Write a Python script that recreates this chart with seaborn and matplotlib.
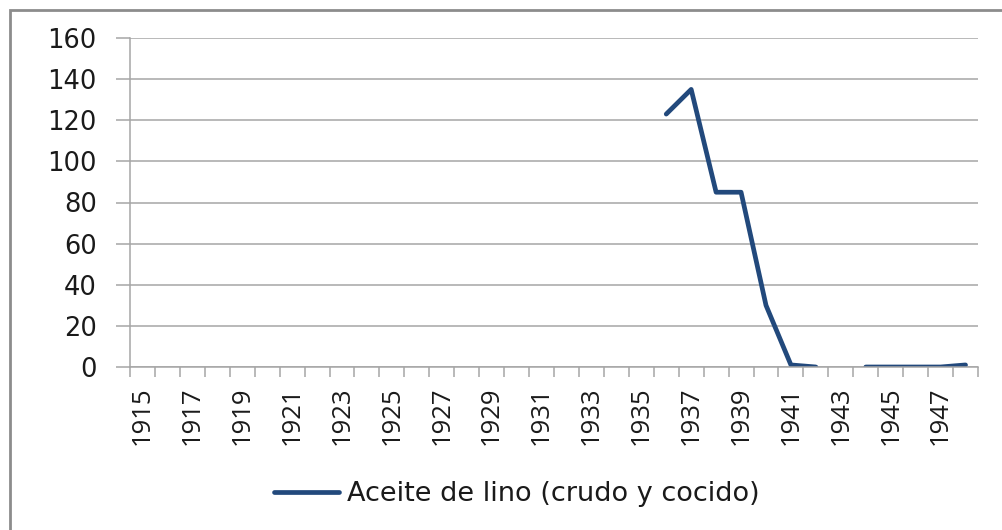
import numpy as np
import pandas as pd
import matplotlib
matplotlib.use("Agg")
import matplotlib.pyplot as plt
import seaborn as sns
from matplotlib.patches import Rectangle
from matplotlib.ticker import FixedLocator

# =========================================================
# DATA
# =========================================================

years = list(range(1915, 1949))
values = [np.nan] * 21 + [123, 135, 85, 85, 30, 1, 0, np.nan, 0, 0, 0, 0, 1]
series_label = "Aceite de lino (crudo y cocido)"
y_ticks = [0, 20, 40, 60, 80, 100, 120, 140, 160]

# =========================================================
# STYLE
# =========================================================

sns.set_style("white")
plt.rcParams["font.family"] = ["Open Sans", "DejaVu Sans"]

line_color = "#22497C"
grid_color = "#A6A6A6"
text_color = "#1A1A1A"
wide_font = ["DejaVu Sans"]

df = pd.DataFrame({"year": years, "value": values})
df["pos"] = np.arange(len(df))
# split into segments so gaps are not bridged
df["seg"] = df["value"].isna().cumsum()
df = df.dropna(subset=["value"])

fig = plt.figure(figsize=(10.03, 5.30), dpi=100)
ax = fig.add_axes([130 / 1003, 1 - 367 / 530, 848 / 1003, 329 / 530])

sns.lineplot(data=df, x="pos", y="value", units="seg", estimator=None,
             color=line_color, linewidth=3.4, ax=ax, legend=False)

ax.set_xlim(-0.5, len(years) - 0.5)
ax.set_ylim(0, 160)

# y axis
ax.set_yticks(y_ticks)
ax.set_yticklabels([str(v) for v in y_ticks], fontsize=18.5, color=text_color,
                   family=wide_font)
ax.yaxis.grid(True, color=grid_color, linewidth=1.1)
ax.tick_params(axis="y", left=True, length=10, width=1.1, color=grid_color,
               pad=14, direction="out")

# x axis: labels every 2 years, tick marks between categories
ax.set_xticks(np.arange(0, len(years), 2))
ax.set_xticklabels([str(y) for y in years[::2]], rotation=90, fontsize=18.5,
                   color=text_color)
ax.xaxis.set_minor_locator(FixedLocator(np.arange(-0.5, len(years), 1)))
ax.tick_params(axis="x", which="major", bottom=True, length=0, pad=14)
ax.tick_params(axis="x", which="minor", bottom=True, length=7, width=1.1,
               color=grid_color, direction="out")
ax.set_xlabel("")
ax.set_ylabel("")

for side in ["top", "right"]:
    ax.spines[side].set_visible(False)
for side in ["left", "bottom"]:
    ax.spines[side].set_color(grid_color)
    ax.spines[side].set_linewidth(1.1)

# legend at bottom
handle = plt.Line2D([], [], color=line_color, linewidth=3.4)
leg = fig.legend([handle], [series_label], loc="center",
                 bbox_to_anchor=(517 / 1003, 1 - 494 / 530), frameon=False,
                 prop={"family": wide_font, "size": 19.5},
                 handlelength=2.4, handletextpad=0.3)
for t in leg.get_texts():
    t.set_color(text_color)

# outer chart border
fig.patches.append(Rectangle((10 / 1003, -0.05), 1.1, 1.05 - 10 / 530,
                             transform=fig.transFigure, fill=False,
                             edgecolor="#8C8C8C", linewidth=2))

fig.savefig("out.png", dpi=100)
